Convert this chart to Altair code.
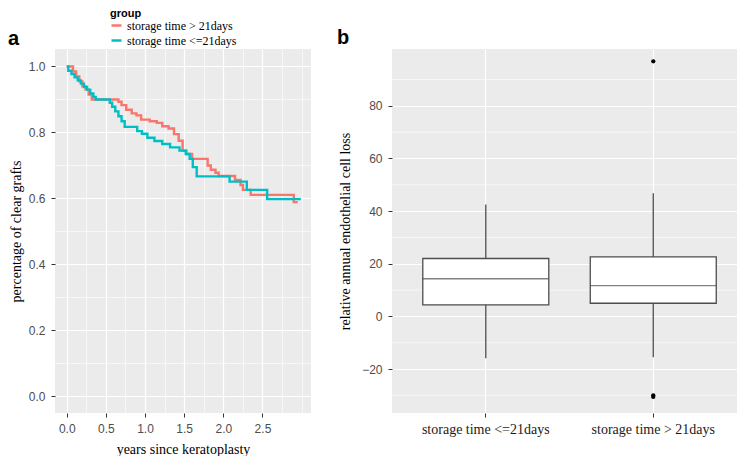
import altair as alt
import pandas as pd

# ---------------- panel a: Kaplan-Meier curves ----------------
gt21_time = [0.0, 0.08, 0.12, 0.16, 0.20, 0.24, 0.28, 0.32, 0.66, 0.70, 0.76, 0.83,
             0.89, 0.95, 1.06, 1.15, 1.22, 1.30, 1.37, 1.43, 1.48, 1.53, 1.60, 1.80,
             1.84, 1.90, 1.94, 2.15, 2.22, 2.25, 2.35, 2.90, 2.95]
gt21_surv = [1.0, 0.985, 0.97, 0.955, 0.94, 0.93, 0.915, 0.90, 0.893, 0.883, 0.869, 0.858,
             0.852, 0.839, 0.834, 0.829, 0.819, 0.812, 0.795, 0.775, 0.745, 0.735, 0.72, 0.70,
             0.687, 0.678, 0.668, 0.656, 0.641, 0.626, 0.611, 0.589, 0.589]

le21_time = [0.0, 0.02, 0.06, 0.10, 0.14, 0.18, 0.22, 0.26, 0.30, 0.34, 0.37, 0.55,
             0.58, 0.62, 0.66, 0.70, 0.74, 0.90, 0.96, 1.03, 1.12, 1.22, 1.32, 1.44,
             1.52, 1.57, 1.61, 1.66, 2.08, 2.30, 2.56, 2.99]
le21_surv = [1.0, 0.987, 0.977, 0.967, 0.958, 0.948, 0.938, 0.93, 0.918, 0.908, 0.90, 0.89,
             0.878, 0.864, 0.849, 0.834, 0.817, 0.804, 0.796, 0.784, 0.774, 0.765, 0.755, 0.745,
             0.735, 0.72, 0.695, 0.667, 0.651, 0.626, 0.598, 0.598]

group_names = ["storage time > 21days", "storage time <=21days"]
group_colors = ["#F8766D", "#00BFC4"]

x_grid_a = [0.0, 0.25, 0.5, 0.75, 1.0, 1.25, 1.5, 1.75, 2.0, 2.25, 2.5, 2.75, 3.0]
y_grid_a = [0.0, 0.1, 0.2, 0.3, 0.4, 0.5, 0.6, 0.7, 0.8, 0.9, 1.0]

# ---------------- panel b: box plot summaries ----------------
box_groups = ["storage time <=21days", "storage time > 21days"]
box_lower = [-15.9, -15.5]
box_q1 = [4.4, 5.0]
box_median = [14.3, 11.7]
box_q3 = [22.0, 22.6]
box_upper = [42.5, 46.8]
outlier_group = ["storage time > 21days", "storage time > 21days", "storage time > 21days"]
outlier_value = [96.9, -30.0, -30.6]
y_major_b = [-20, 0, 20, 40, 60, 80]
y_minor_b = [-30, -10, 10, 30, 50, 70, 90]

panel_letters = ["a", "b"]

# ---------------- styling helpers ----------------
SANS = "Liberation Sans"
SERIF = "Liberation Serif"
BG = "#EBEBEB"

axis_common = dict(
    titleFont=SERIF,
    titleFontSize=14,
    titleFontWeight="normal",
    titleColor="black",
    labelFont=SANS,
    labelFontSize=12,
    labelColor="#4d4d4d",
    labelPadding=6,
    labelOverlap=False,
    labelFlush=False,
    domain=False,
    tickColor="#333333",
    tickSize=4,
    tickWidth=1,
    grid=True,
    gridColor="white",
)


def grid_axis(values, major_test, fmt, title, title_pad):
    return alt.Axis(
        values=values,
        title=title,
        titlePadding=title_pad,
        labelExpr=f"({major_test}) ? format(datum.value, '{fmt}') : ''",
        tickOpacity={"condition": {"test": major_test, "value": 1}, "value": 0},
        gridWidth={"condition": {"test": major_test, "value": 1.2}, "value": 0.6},
        **axis_common,
    )


km = pd.DataFrame({
    "time": gt21_time + le21_time,
    "surv": gt21_surv + le21_surv,
    "group": [group_names[0]] * len(gt21_time) + [group_names[1]] * len(le21_time),
})

x_a = alt.X(
    "time:Q",
    scale=alt.Scale(domain=[-0.15, 3.12], nice=False, zero=False),
    axis=grid_axis(x_grid_a,
                   "datum.value < 2.6 && abs(datum.value*2 - round(datum.value*2)) < 0.000001",
                   ".1f", "years since keratoplasty", 8),
)
y_a = alt.Y(
    "surv:Q",
    scale=alt.Scale(domain=[-0.05, 1.053], nice=False, zero=False),
    axis=grid_axis(y_grid_a, "abs(datum.value*5 - round(datum.value*5)) < 0.000001", ".1f",
                   "percentage of clear grafts", 5),
)

lines = alt.Chart(km).mark_line(interpolate="step-after", strokeWidth=2.4).encode(
    x=x_a,
    y=y_a,
    color=alt.Color(
        "group:N",
        scale=alt.Scale(domain=group_names, range=group_colors),
        legend=alt.Legend(
            title="group",
            orient="none",
            legendX=55,
            legendY=-41,
            titleFont=SANS,
            titleFontSize=11,
            titleFontWeight="bold",
            titleColor="black",
            titlePadding=0,
            labelFont=SERIF,
            labelFontSize=12,
            labelColor="black",
            labelOffset=4,
            symbolType="stroke",
            symbolStrokeWidth=2.5,
            symbolSize=100,
            rowPadding=2,
            padding=0,
        ),
    ),
)

letter_a = alt.Chart(pd.DataFrame({"panel": [panel_letters[0]]})).mark_text(
    align="left", baseline="alphabetic", font=SANS, fontSize=20, fontWeight="bold", color="black"
).encode(x=alt.value(-47), y=alt.value(-4), text="panel:N")

left = alt.layer(lines, letter_a).properties(width=256, height=364)

# ---------------- panel b ----------------
boxes = pd.DataFrame({
    "group": box_groups,
    "lower": box_lower,
    "q1": box_q1,
    "median": box_median,
    "q3": box_q3,
    "upper": box_upper,
})
outliers = pd.DataFrame({"group": outlier_group, "value": outlier_value})
minor_b = pd.DataFrame({"tick": y_minor_b})

x_b_scale = alt.Scale(domain=box_groups, paddingInner=0, paddingOuter=0.03, align=1)
x_b_axis = alt.Axis(
    title=None,
    labelFont=SERIF,
    labelFontSize=14,
    labelColor="#1a1a1a",
    labelPadding=5,
    labelAngle=0,
    domain=False,
    tickColor="#333333",
    tickSize=4,
    bandPosition=0.5,
    grid=True,
    gridColor="white",
    gridWidth=1.2,
)
y_b_scale = alt.Scale(domain=[-36.7, 101.6], nice=False, zero=False)
y_b_axis = alt.Axis(
    values=y_major_b,
    format="d",
    title="relative annual endothelial cell loss",
    titlePadding=9,
    gridWidth=1.2,
    **axis_common,
)

minor_grid = alt.Chart(minor_b).mark_rule(color="white", strokeWidth=0.6).encode(
    y=alt.Y("tick:Q", scale=y_b_scale, axis=y_b_axis),
)

base_b = alt.Chart(boxes)
whiskers = base_b.mark_rule(color="#4d4d4d", strokeWidth=1.3).encode(
    x=alt.X("group:N", scale=x_b_scale, axis=x_b_axis, sort=box_groups),
    y=alt.Y("lower:Q", scale=y_b_scale, axis=y_b_axis),
    y2="upper:Q",
)
box = base_b.mark_bar(size=126, fill="white", stroke="#4d4d4d", strokeWidth=1.3).encode(
    x=alt.X("group:N", scale=x_b_scale, axis=x_b_axis, sort=box_groups),
    y=alt.Y("q1:Q", scale=y_b_scale, axis=y_b_axis),
    y2="q3:Q",
)
med = base_b.mark_tick(size=126, thickness=1.3, color="#4d4d4d").encode(
    x=alt.X("group:N", scale=x_b_scale, axis=x_b_axis, sort=box_groups),
    y=alt.Y("median:Q", scale=y_b_scale, axis=y_b_axis),
)
outs = alt.Chart(outliers).mark_circle(size=18, color="black", opacity=1).encode(
    x=alt.X("group:N", scale=x_b_scale, axis=x_b_axis, sort=box_groups),
    y=alt.Y("value:Q", scale=y_b_scale, axis=y_b_axis),
)
letter_b = alt.Chart(pd.DataFrame({"panel": [panel_letters[1]]})).mark_text(
    align="left", baseline="alphabetic", font=SANS, fontSize=20, fontWeight="bold", color="black"
).encode(x=alt.value(-55), y=alt.value(-5), text="panel:N")

right = alt.layer(minor_grid, whiskers, box, med, outs, letter_b).properties(width=345, height=364)

chart = alt.hconcat(left, right, spacing=81, bounds="flush").configure(
    padding=0, background="white"
).configure_view(
    fill=BG, stroke=None
)

chart.save("out.html", embed_options={"renderer": "svg", "actions": False})
